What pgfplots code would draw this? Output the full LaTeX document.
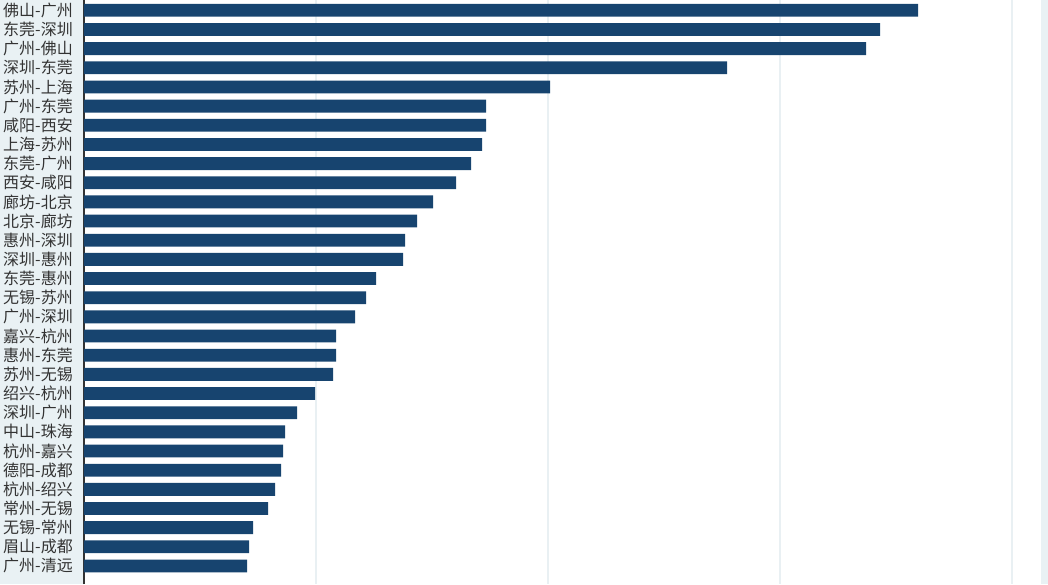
\documentclass[border=0pt]{standalone}
\usepackage{fontspec}
\usepackage{pgfplots}
\pgfplotsset{compat=1.18}
\newfontfamily\cjk{Noto Sans CJK SC}
\definecolor{barblue}{HTML}{17446F}
\definecolor{panel}{HTML}{E9F1F4}
\definecolor{gridc}{HTML}{E9F0F3}
\definecolor{labgray}{HTML}{333333}
\begin{document}
\begin{tikzpicture}[x=1pt,y=1pt]
\fill[panel] (-84,0) rectangle (0,584);
\fill[panel] (957,0) rectangle (964,584);
\path[use as bounding box] (-84,0) rectangle (964,584);
\begin{axis}[at={(0,0)}, anchor=south west, scale only axis,
  width=956pt, height=584pt,
  xmin=0, xmax=956, ymin=-0.94, ymax=29.537,
  xbar, bar width=0.67,
  axis lines*=left,
  x axis line style={draw=none},
  y axis line style={draw=labgray, line width=1.5pt},
  xtick={232,464,696,928}, xticklabels={},
  xmajorgrids, major grid style={gridc, line width=2pt},
  ytick={0,...,29},
  yticklabels={广州-清远,眉山-成都,无锡-常州,常州-无锡,杭州-绍兴,德阳-成都,杭州-嘉兴,中山-珠海,深圳-广州,绍兴-杭州,苏州-无锡,惠州-东莞,嘉兴-杭州,广州-深圳,无锡-苏州,东莞-惠州,深圳-惠州,惠州-深圳,北京-廊坊,廊坊-北京,西安-咸阳,东莞-广州,上海-苏州,咸阳-西安,广州-东莞,苏州-上海,深圳-东莞,广州-佛山,东莞-深圳,佛山-广州},
  yticklabel style={font=\cjk\fontsize{16}{16}\selectfont, text=labgray, inner sep=0pt, xshift=-11pt},
  major tick length=0pt,
  clip=false,
]
\addplot[fill=barblue, draw=none] coordinates {
(163,0) (165,1) (169,2) (184,3) (191,4) (197,5) (199,6) (201,7) (213,8) (231,9)
(249,10) (252,11) (252,12) (271,13) (282,14) (292,15) (319,16) (321,17) (333,18) (349,19)
(372,20) (387,21) (398,22) (402,23) (402,24) (466,25) (643,26) (782,27) (796,28) (834,29)
};
\end{axis}
\end{tikzpicture}
\end{document}
